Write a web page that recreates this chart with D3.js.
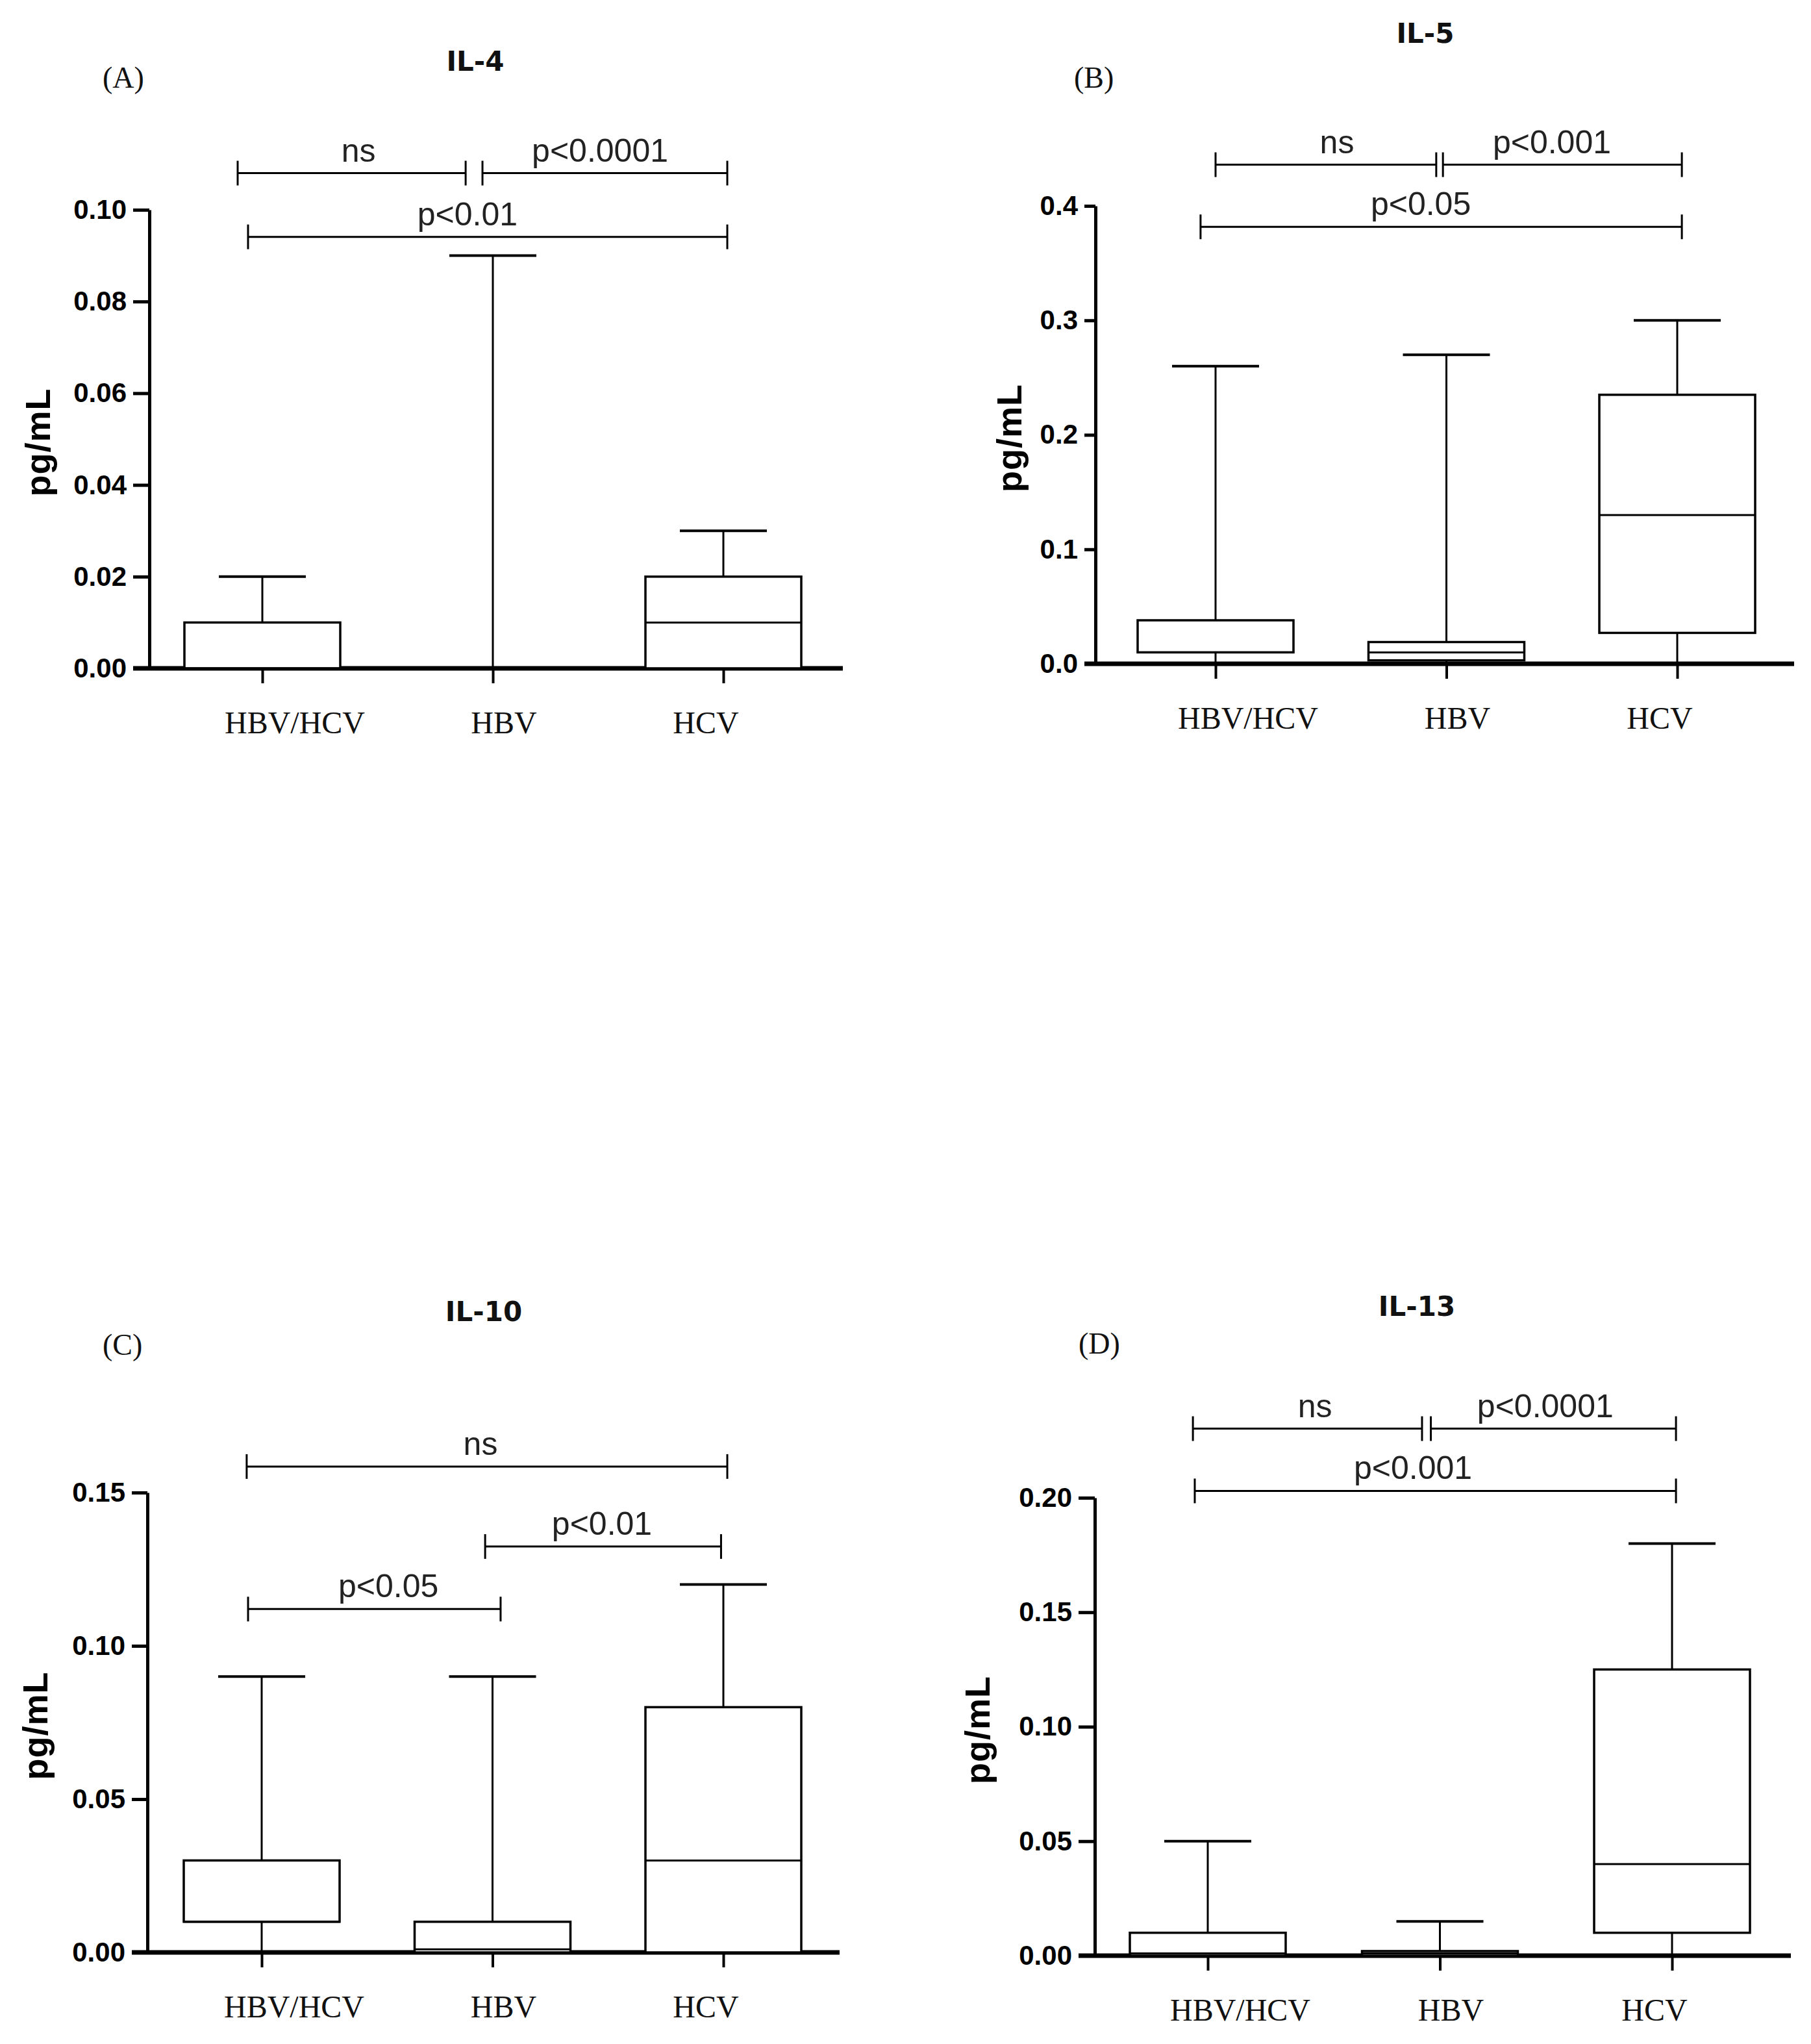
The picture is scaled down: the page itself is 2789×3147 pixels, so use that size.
<!DOCTYPE html>
<html>
<head>
<meta charset="utf-8">
<script src="https://cdn.jsdelivr.net/npm/d3@7"></script>
<style>
  body { margin: 0; background: #fff; }
  svg { display: block; }
  .tick text { font-family: "Liberation Sans", Arial, sans-serif; font-weight: bold; font-size: 42px; fill: #000; }
</style>
</head>
<body>
<svg width="2789" height="3147"></svg>
<script>
// groups on the x axis
const categories = ["HBV/HCV", "HBV", "HCV"];

// panel titles and letters
const titles = ["IL-4", "IL-5", "IL-10", "IL-13"];
const letters = ["(A)", "(B)", "(C)", "(D)"];

// y axis maxima and tick steps
const yMax = [0.10, 0.4, 0.15, 0.20];
const yStep = [0.02, 0.1, 0.05, 0.05];
const yFormat = [".2f", ".1f", ".2f", ".2f"];

// box plot values, one array per statistic, per group
const il4Min = [0, 0, 0];
const il4Q1 = [0, 0, 0];
const il4Median = [0, 0, 0.01];
const il4Q3 = [0.01, 0, 0.02];
const il4Max = [0.02, 0.09, 0.03];

const il5Min = [0, 0, 0];
const il5Q1 = [0.01, 0.003, 0.027];
const il5Median = [0.01, 0.01, 0.13];
const il5Q3 = [0.038, 0.019, 0.235];
const il5Max = [0.26, 0.27, 0.30];

const il10Min = [0, 0, 0];
const il10Q1 = [0.01, 0, 0];
const il10Median = [0.01, 0.001, 0.03];
const il10Q3 = [0.03, 0.01, 0.08];
const il10Max = [0.09, 0.09, 0.12];

const il13Min = [0, 0, 0];
const il13Q1 = [0, 0, 0.01];
const il13Median = [0.001, 0.001, 0.04];
const il13Q3 = [0.01, 0.002, 0.125];
const il13Max = [0.05, 0.015, 0.18];

// significance brackets: [label, from group, to group, text at, level (pg/mL)]
const il4Brackets = [
  ["ns", -0.107, 0.882, 0.417, 0.108],
  ["p<0.0001", 0.955, 2.017, 1.465, 0.108],
  ["p<0.01", -0.062, 2.017, 0.89, 0.0941],
];
const il5Brackets = [
  ["ns", 0, 0.956, 0.526, 0.436],
  ["p<0.001", 0.985, 2.02, 1.457, 0.436],
  ["p<0.05", -0.065, 2.02, 0.889, 0.3817],
];
const il10Brackets = [
  ["ns", -0.065, 2.017, 0.948, 0.1585],
  ["p<0.01", 0.968, 1.99, 1.474, 0.1324],
  ["p<0.05", -0.059, 1.035, 0.549, 0.112],
];
const il13Brackets = [
  ["ns", -0.064, 0.923, 0.462, 0.2302],
  ["p<0.0001", 0.961, 2.017, 1.454, 0.2302],
  ["p<0.001", -0.056, 2.017, 0.884, 0.203],
];

const stats = [
  [il4Min, il4Q1, il4Median, il4Q3, il4Max],
  [il5Min, il5Q1, il5Median, il5Q3, il5Max],
  [il10Min, il10Q1, il10Median, il10Q3, il10Max],
  [il13Min, il13Q1, il13Median, il13Q3, il13Max],
];
const brackets = [il4Brackets, il5Brackets, il10Brackets, il13Brackets];

// layout of each panel (pixels)
const layout = [
  { x0: 230, y0: 1029, yTop: 323, xs: 174, xe: 884, axisEnd: 1068, tick: 25, ylab: -153, titleX: 732, titleY: 109, letterX: 158, letterY: 135 },
  { x0: 1687, y0: 1022, yTop: 317, xs: 185, xe: 896, axisEnd: 1076, tick: 17, ylab: -114, titleX: 2195, titleY: 66, letterX: 1654, letterY: 135 },
  { x0: 227, y0: 3006, yTop: 2298, xs: 176, xe: 887, axisEnd: 1066, tick: 24, ylab: -154, titleX: 745, titleY: 2034, letterX: 158, letterY: 2086 },
  { x0: 1686, y0: 3011, yTop: 2306, xs: 174, xe: 889, axisEnd: 1072, tick: 25, ylab: -162, titleX: 2182, titleY: 2026, letterX: 1661, letterY: 2084 },
];
const labelShift = [50, 17, -27];
const boxWidth = 240;
const capWidth = 134;

const svg = d3.select("svg");

layout.forEach((L, p) => {
  const g = svg.append("g");

  const x = d3.scalePoint().domain(categories).range([L.x0 + L.xs, L.x0 + L.xe]);
  const xi = d3.scaleLinear().domain([0, categories.length - 1]).range([L.x0 + L.xs, L.x0 + L.xe]);
  const y = d3.scaleLinear().domain([0, yMax[p]]).range([L.y0, L.yTop]);

  // y axis
  const yAxis = g.append("g")
    .attr("transform", `translate(${L.x0},0)`)
    .call(d3.axisLeft(y)
      .tickValues(d3.range(0, yMax[p] + yStep[p] / 2, yStep[p]))
      .tickFormat(d3.format(yFormat[p]))
      .tickSize(L.tick)
      .tickSizeOuter(0)
      .tickPadding(10));
  yAxis.select(".domain").attr("stroke", "#000").attr("stroke-width", 5);
  yAxis.selectAll(".tick line").attr("stroke", "#000").attr("stroke-width", 5);

  // x axis base line
  g.append("line")
    .attr("x1", L.x0 - L.tick).attr("x2", L.x0 + L.axisEnd)
    .attr("y1", L.y0).attr("y2", L.y0)
    .attr("stroke", "#000").attr("stroke-width", 7);

  const xAxis = g.append("g")
    .attr("transform", `translate(0,${L.y0})`)
    .call(d3.axisBottom(x).tickSize(23).tickFormat(""));
  xAxis.select(".domain").remove();
  xAxis.selectAll(".tick line").attr("stroke", "#000").attr("stroke-width", 4);

  g.selectAll(".cat")
    .data(categories)
    .enter()
    .append("text")
    .attr("class", "cat")
    .attr("x", (d, i) => x(d) + labelShift[i])
    .attr("y", L.y0 + 100)
    .attr("text-anchor", "middle")
    .attr("font-family", "'Liberation Serif', 'Times New Roman', serif")
    .attr("font-size", 48)
    .attr("fill", "#111")
    .text((d) => d);

  // box plots
  const [mn, q1, md, q3, mx] = stats[p];
  const boxes = g.selectAll(".box")
    .data(categories)
    .enter()
    .append("g")
    .attr("class", "box");

  boxes.append("line") // upper whisker
    .attr("x1", (d) => x(d)).attr("x2", (d) => x(d))
    .attr("y1", (d, i) => y(q3[i])).attr("y2", (d, i) => y(mx[i]))
    .attr("stroke", "#000").attr("stroke-width", 3);
  boxes.append("line") // lower whisker
    .attr("x1", (d) => x(d)).attr("x2", (d) => x(d))
    .attr("y1", (d, i) => y(mn[i])).attr("y2", (d, i) => y(q1[i]))
    .attr("stroke", "#000").attr("stroke-width", 3);
  boxes.append("line") // cap
    .attr("x1", (d) => x(d) - capWidth / 2).attr("x2", (d) => x(d) + capWidth / 2)
    .attr("y1", (d, i) => y(mx[i])).attr("y2", (d, i) => y(mx[i]))
    .attr("stroke", "#000").attr("stroke-width", 4);
  boxes.filter((d, i) => q3[i] > q1[i])
    .append("rect")
    .attr("x", (d) => x(d) - boxWidth / 2)
    .attr("width", boxWidth)
    .attr("y", (d) => y(q3[categories.indexOf(d)]))
    .attr("height", (d) => y(q1[categories.indexOf(d)]) - y(q3[categories.indexOf(d)]))
    .attr("fill", "#fff")
    .attr("stroke", "#000").attr("stroke-width", 3.5);
  boxes.filter((d, i) => q3[i] > q1[i])
    .append("line") // median
    .attr("x1", (d) => x(d) - boxWidth / 2).attr("x2", (d) => x(d) + boxWidth / 2)
    .attr("y1", (d) => y(md[categories.indexOf(d)])).attr("y2", (d) => y(md[categories.indexOf(d)]))
    .attr("stroke", "#000").attr("stroke-width", 3);

  // significance brackets
  const br = g.selectAll(".bracket")
    .data(brackets[p])
    .enter()
    .append("g")
    .attr("class", "bracket");
  br.append("line")
    .attr("x1", (d) => xi(d[1])).attr("x2", (d) => xi(d[2]))
    .attr("y1", (d) => y(d[4])).attr("y2", (d) => y(d[4]))
    .attr("stroke", "#000").attr("stroke-width", 3);
  br.append("line")
    .attr("x1", (d) => xi(d[1])).attr("x2", (d) => xi(d[1]))
    .attr("y1", (d) => y(d[4]) - 19).attr("y2", (d) => y(d[4]) + 19)
    .attr("stroke", "#000").attr("stroke-width", 3);
  br.append("line")
    .attr("x1", (d) => xi(d[2])).attr("x2", (d) => xi(d[2]))
    .attr("y1", (d) => y(d[4]) - 19).attr("y2", (d) => y(d[4]) + 19)
    .attr("stroke", "#000").attr("stroke-width", 3);
  br.append("text")
    .attr("x", (d) => xi(d[3]))
    .attr("y", (d) => y(d[4]) - 18)
    .attr("text-anchor", "middle")
    .attr("font-family", "'Liberation Sans', Arial, sans-serif")
    .attr("font-size", 50)
    .attr("fill", "#222")
    .text((d) => d[0]);

  // y axis title
  g.append("text")
    .attr("transform", `translate(${L.x0 + L.ylab},${(L.y0 + L.yTop) / 2 + 5}) rotate(-90)`)
    .attr("text-anchor", "middle")
    .attr("font-family", "'Liberation Sans', Arial, sans-serif")
    .attr("font-weight", "bold")
    .attr("font-size", 54)
    .attr("letter-spacing", 1)
    .attr("fill", "#000")
    .text("pg/mL");

  // panel title and letter
  g.append("text")
    .attr("x", L.titleX).attr("y", L.titleY)
    .attr("text-anchor", "middle")
    .attr("font-family", "'DejaVu Sans', Verdana, sans-serif")
    .attr("font-weight", "bold")
    .attr("font-size", 42)
    .attr("fill", "#111")
    .text(titles[p]);

  g.append("text")
    .attr("x", L.letterX).attr("y", L.letterY)
    .attr("font-family", "'Liberation Serif', 'Times New Roman', serif")
    .attr("font-size", 46)
    .attr("fill", "#111")
    .text(letters[p]);
});
</script>
</body>
</html>
